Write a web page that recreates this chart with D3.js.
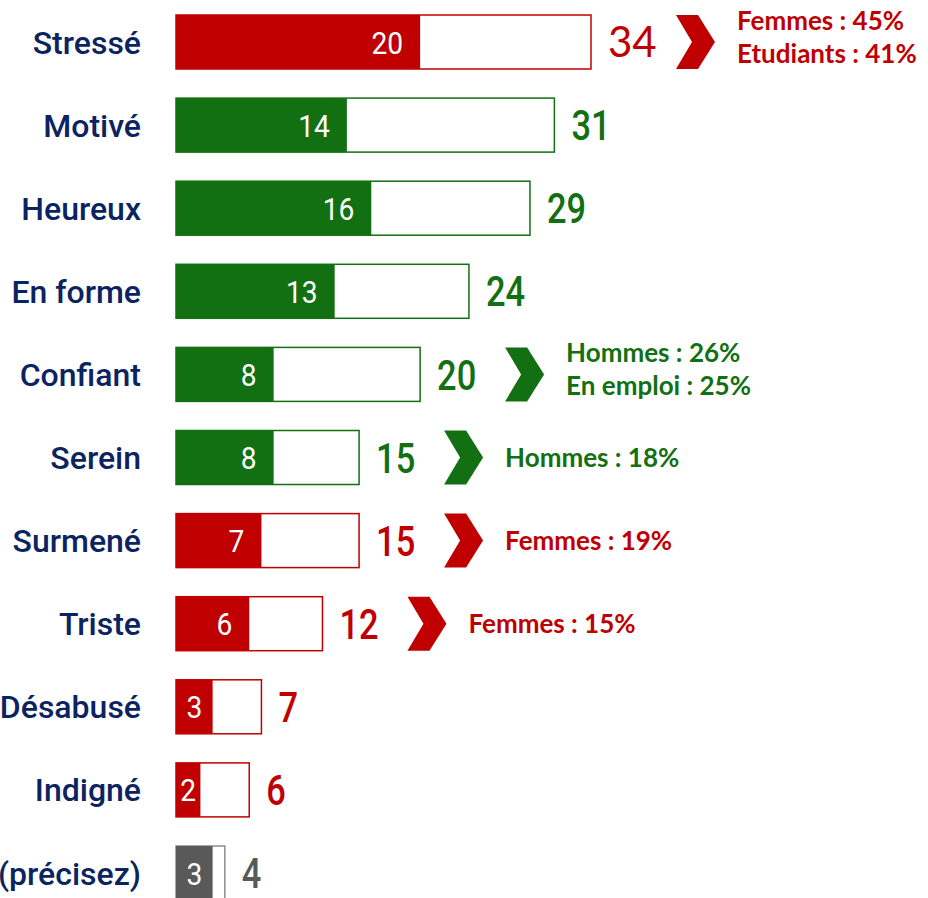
<!DOCTYPE html>
<html>
<head>
<meta charset="utf-8">
<script src="https://cdn.jsdelivr.net/npm/d3@7"></script>
<style>
  body { margin: 0; background: #fff; }
  svg { display: block; }
</style>
</head>
<body>
<svg id="chart" width="928" height="898"></svg>
<script>
const categories = ["Stressé", "Motivé", "Heureux", "En forme", "Confiant", "Serein", "Surmené", "Triste", "Désabusé", "Indigné", "Autre (précisez)"];
const firstValues = [20, 14, 16, 13, 8, 8, 7, 6, 3, 2, 3];
const totalValues = [34, 31, 29, 24, 20, 15, 15, 12, 7, 6, 4];
const tones = ["neg", "pos", "pos", "pos", "pos", "pos", "neg", "neg", "neg", "neg", "other"];
const noteCats = ["Stressé", "Confiant", "Serein", "Surmené", "Triste"];
const noteLines = [["Femmes : 45%", "Etudiants : 41%"], ["Hommes : 26%", "En emploi : 25%"], ["Hommes : 18%"], ["Femmes : 19%"], ["Femmes : 15%"]];

const fill = {neg: "#c00000", pos: "#127012", other: "#595959"};
const stroke = {neg: "#c00000", pos: "#127012", other: "#8c8c8c"};
const navy = "#0b2461";
const dinFont = "Roboto, 'Noto Sans', sans-serif";

const data = categories.map((c, i) => ({cat: c, v: firstValues[i], total: totalValues[i], tone: tones[i]}));
const notes = noteCats.map((c, i) => {
    const row = data[categories.indexOf(c)];
    return {cat: c, lines: noteLines[i], tone: row.tone, total: row.total};
});

const svg = d3.select("#chart");
const x = d3.scaleLinear().domain([0, 34]).range([176, 591]);
const y = d3.scalePoint().domain(categories).range([42, 873]);
const barH = 54;

const rows = svg.selectAll(".row")
    .data(data)
    .enter()
    .append("g")
    .classed("row", true)
    .attr("transform", d => `translate(0, ${y(d.cat)})`);

// category labels
rows.append("text")
    .attr("x", 141)
    .attr("y", 0)
    .attr("dy", "0.36em")
    .attr("text-anchor", "end")
    .attr("fill", navy)
    .attr("font-family", dinFont)
    .attr("font-weight", 500)
    .attr("font-size", 32)
    .text(d => d.cat);

// outline = total
rows.append("rect")
    .attr("x", x(0))
    .attr("y", -barH / 2)
    .attr("width", d => x(d.total) - x(0))
    .attr("height", barH)
    .attr("fill", "#fff")
    .attr("stroke", d => stroke[d.tone])
    .attr("stroke-width", 1.5);

// filled part
rows.append("rect")
    .attr("x", x(0))
    .attr("y", -barH / 2)
    .attr("width", d => x(d.v) - x(0))
    .attr("height", barH)
    .attr("fill", d => fill[d.tone]);

// value inside: near the end, centred when the bar is short
rows.append("text")
    .attr("transform", d => {
        const w = x(d.v) - x(0);
        const tx = w > 60 ? x(d.v) - 17 : (x(0) + x(d.v)) / 2;
        return `translate(${tx}, 0) scale(0.88, 1)`;
    })
    .attr("dy", "0.36em")
    .attr("text-anchor", d => (x(d.v) - x(0)) > 60 ? "end" : "middle")
    .attr("fill", "#fff")
    .attr("font-family", dinFont)
    .attr("font-size", 32)
    .text(d => d.v);

// total after the bar
rows.append("text")
    .attr("transform", d => `translate(${x(d.total) + 17}, 0)` + (d.cat === "Stressé" ? "" : " scale(0.82, 1)"))
    .attr("dy", "0.36em")
    .attr("fill", d => fill[d.tone])
    .attr("font-family", d => d.cat === "Stressé" ? "Lato, sans-serif" : dinFont)
    .attr("font-weight", d => d.cat === "Stressé" ? 400 : 500)
    .attr("font-size", 42)
    .text(d => d.total);

// chevrons + notes
const chev = "M 0,0 L 22,0 L 39,27 L 22,54 L 0,54 L 16,27 Z";
const ng = svg.selectAll(".note")
    .data(notes)
    .enter()
    .append("g")
    .classed("note", true)
    .attr("transform", d => `translate(${x(d.total) + 85}, ${y(d.cat)})`);

ng.append("path")
    .attr("d", chev)
    .attr("transform", "translate(0, -27)")
    .attr("fill", d => fill[d.tone]);

ng.each(function(d) {
    const t = d3.select(this).append("text")
        .attr("fill", fill[d.tone])
        .attr("font-family", "Lato, 'Open Sans', sans-serif")
        .attr("font-weight", "bold")
        .attr("font-size", 26);
    const n = d.lines.length;
    d.lines.forEach((line, i) => {
        t.append("tspan")
            .attr("x", 61)
            .attr("y", (i - (n - 1) / 2) * 33 - (n > 1 ? 5 : 0))
            .attr("dy", "0.35em")
            .text(line);
    });
});
</script>
</body>
</html>
